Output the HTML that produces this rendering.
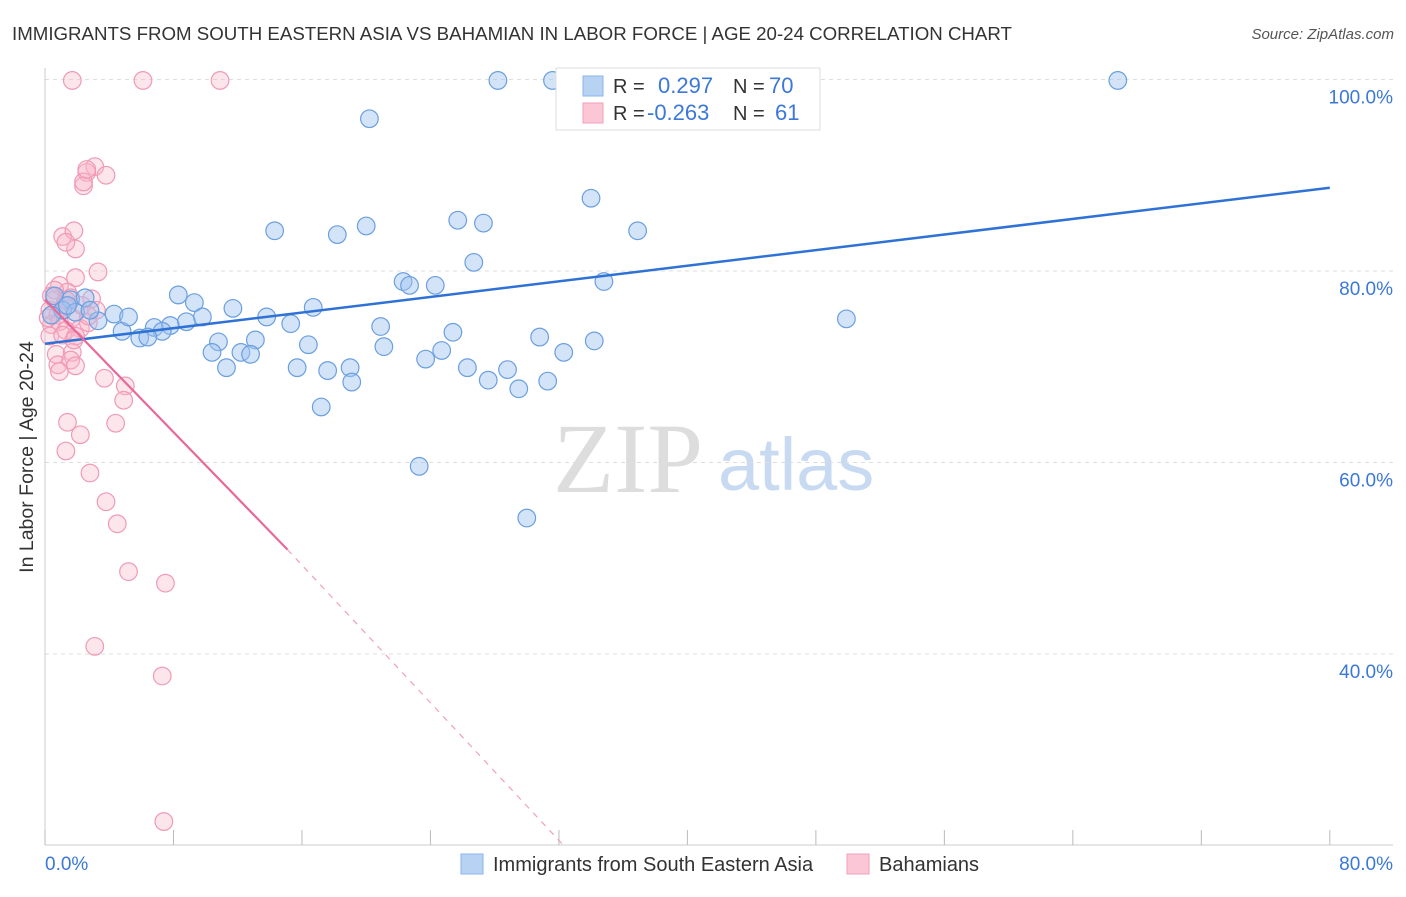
<!DOCTYPE html>
<html><head><meta charset="utf-8"><style>
body{margin:0;background:#fff;font-family:"Liberation Sans",sans-serif;}
</style></head><body>
<svg id="chart" width="1406" height="892" xmlns="http://www.w3.org/2000/svg" font-family="Liberation Sans, sans-serif">
<text x="12" y="40" font-size="18.7" fill="#333">IMMIGRANTS FROM SOUTH EASTERN ASIA VS BAHAMIAN IN LABOR FORCE | AGE 20-24 CORRELATION CHART</text>
<text x="1394" y="39" font-size="15" fill="#555" text-anchor="end" font-style="italic">Source: ZipAtlas.com</text>
<text x="553" y="492" font-size="100" fill="#ddd" font-family="Liberation Serif, serif">ZIP</text>
<text x="718" y="490" font-size="74" fill="#c8daf2">atlas</text>
<text transform="translate(33,457) rotate(-90)" font-size="19.5" fill="#333" text-anchor="middle">In Labor Force | Age 20-24</text>
<g id="grid"></g><g id="pts"></g><g id="lines"></g>
<g>
<rect x="556" y="68" width="264" height="62" fill="#fff" stroke="#ddd"/>
<rect x="583" y="76" width="20" height="20" fill="#b8d2f4" stroke="#8ab4ea"/>
<rect x="583" y="103" width="20" height="20" fill="#fbc6d6" stroke="#f1a0bb"/>
<text x="613" y="93" font-size="20" fill="#333">R = </text><text x="658" y="93" font-size="22" fill="#3b78d8">0.297</text>
<text x="733" y="93" font-size="20" fill="#333">N = </text><text x="769" y="93" font-size="22" fill="#3b78d8">70</text>
<text x="613" y="120" font-size="20" fill="#333">R = </text><text x="647" y="120" font-size="22" fill="#3b78d8">-0.263</text>
<text x="733" y="120" font-size="20" fill="#333">N = </text><text x="775" y="120" font-size="22" fill="#3b78d8">61</text>
</g>
<g>
<rect x="461" y="854" width="22" height="20" fill="#b8d2f4" stroke="#8ab4ea"/>
<text x="493" y="871" font-size="20" fill="#333">Immigrants from South Eastern Asia</text>
<rect x="847" y="854" width="22" height="20" fill="#fbc6d6" stroke="#f1a0bb"/>
<text x="879" y="871" font-size="20" fill="#333">Bahamians</text>
</g>
</svg>
<script>
const yTicks=[100,80,60,40];
const yTickLabels=["100.0%","80.0%","60.0%","40.0%"];
const xTicks=[0,8,16,24,32,40,48,56,64,72,80];
const blueX=[28.2,31.6,33.0,66.8,20.2,34.0,36.9,14.3,18.2,20.0,25.7,27.3,26.7,22.3,22.7,24.3,34.8,8.3,9.3,11.7,16.7,9.8,8.8,13.8,15.3,7.8,6.8,7.3,5.9,6.4,4.8,3.3,4.3,5.2,20.9,25.4,30.8,34.2,10.8,13.1,16.4,21.1,24.7,10.4,12.2,12.8,32.3,23.7,11.3,15.7,17.6,19.0,26.3,28.8,19.1,27.6,31.3,29.5,17.2,23.3,30.0,49.9,0.6,1.6,2.5,1.1,1.9,2.8,0.4,1.4];
const blueY=[99.9,99.9,99.9,99.9,95.9,87.6,84.2,84.2,83.8,84.7,85.3,85.0,80.9,78.9,78.5,78.5,78.9,77.5,76.7,76.1,76.2,75.2,74.7,75.2,74.5,74.3,74.1,73.7,73.0,73.1,73.7,74.8,75.5,75.2,74.2,73.6,73.1,72.7,72.6,72.8,72.3,72.1,71.7,71.5,71.5,71.3,71.5,70.8,69.9,69.9,69.6,69.9,69.9,69.7,68.4,68.6,68.5,67.7,65.8,59.6,54.2,75.0,77.4,77.0,77.2,75.9,75.7,75.9,75.4,76.4];
const pinkX=[1.7,6.1,10.9,3.1,2.6,2.4,2.4,3.8,1.1,1.8,1.9,1.3,3.3,0.9,1.9,1.4,1.6,2.9,0.6,1.2,0.3,0.8,1.7,0.4,0.9,1.3,2.2,0.3,1.1,1.9,2.7,0.7,1.7,0.8,1.6,1.9,0.9,3.7,5.0,4.9,4.4,1.4,2.2,1.3,2.8,3.8,4.5,5.2,7.5,3.1,7.3,7.4,0.6,0.2,2.3,3.2,1.3,0.4,1.8,2.6,2.7];
const pinkY=[99.9,99.9,99.9,90.9,90.3,88.9,89.3,90.0,83.6,84.2,82.3,83.0,79.9,78.5,79.3,77.8,77.2,77.1,77.0,76.4,75.9,75.4,75.1,74.4,74.7,73.8,74.0,73.2,73.3,73.2,74.6,71.3,71.5,70.2,70.7,70.1,69.5,68.8,68.0,66.5,64.1,64.2,62.9,61.2,58.9,55.9,53.6,48.6,47.4,40.8,37.7,22.5,78.0,75.1,76.4,75.9,77.0,77.4,72.8,90.6,75.3];
const blueTrend=[[0,72.4],[80,88.7]];
const pinkTrendSolid=[[0,77.0],[15.1,50.9]];
const pinkTrendDash=[[15.1,50.9],[32.3,20]];
const NS="http://www.w3.org/2000/svg";
const sx=v=>45+v*16.06, sy=v=>79.5+(100-v)*9.575;
function mk(t,a,p){const e=document.createElementNS(NS,t);for(const k in a)e.setAttribute(k,a[k]);p.appendChild(e);return e;}
const grid=document.getElementById('grid');
yTicks.forEach((v,i)=>{
 const l=mk('line',{x1:45,x2:1393,y1:sy(v),y2:sy(v),stroke:'#ddd','stroke-dasharray':'4,4'},grid);
 
 
 const t=mk('text',{x:1393,y:sy(v)+24,'font-size':19,fill:'#3b78d8','text-anchor':'end'},grid);t.textContent=yTickLabels[i];
 
 
});
const ax=mk('line',{x1:45,x2:1393,y1:845,y2:845,stroke:'#ccc'},grid);


const ay=mk('line',{x1:45,x2:45,y1:68,y2:845,stroke:'#ccc'},grid);


xTicks.forEach(v=>{const l=mk('line',{x1:sx(v),x2:sx(v),y1:830,y2:845,stroke:'#bbb'},grid);
 
 });
const x0=mk('text',{x:45,y:870,'font-size':19,fill:'#3b78d8'},grid);x0.textContent='0.0%';


const x1=mk('text',{x:1393,y:870,'font-size':19,fill:'#3b78d8','text-anchor':'end'},grid);x1.textContent='80.0%';


const pts=document.getElementById('pts');
pinkX.forEach((x,i)=>{const c=mk('circle',{cx:sx(x),cy:sy(pinkY[i]),r:8.8,fill:'rgba(248,180,200,0.35)',stroke:'#f09ab6','stroke-width':1.2},pts);
 
 });
blueX.forEach((x,i)=>{const c=mk('circle',{cx:sx(x),cy:sy(blueY[i]),r:8.8,fill:'rgba(160,196,240,0.45)',stroke:'#6a9fe0','stroke-width':1.2},pts);
 
 });
const lines=document.getElementById('lines');
function ln(d,st,dash,w,name){const l=mk('line',{x1:sx(d[0][0]),y1:sy(d[0][1]),x2:sx(d[1][0]),y2:sy(d[1][1]),stroke:st,'stroke-width':w},lines);if(dash)l.setAttribute('stroke-dasharray',dash);
 
 }
ln(blueTrend,'#2f72d6',null,2.5,'sea-trend-line');
ln(pinkTrendSolid,'#e8689a',null,2.2,'bahamian-trend-line');
ln(pinkTrendDash,'#f0a0bc','6,6',1.2,'bahamian-trend-extension');
</script>
</body></html>
